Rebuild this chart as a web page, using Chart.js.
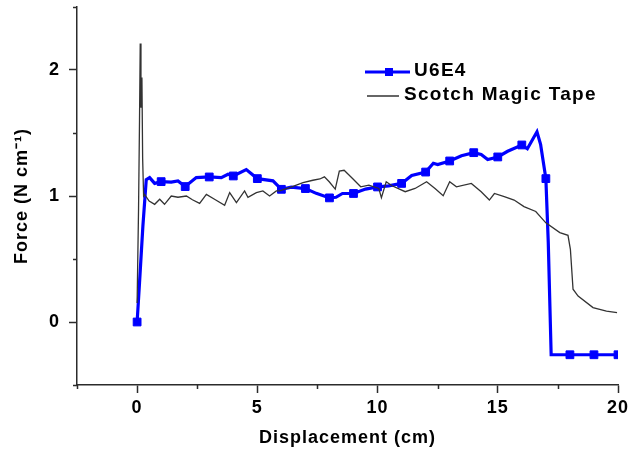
<!DOCTYPE html>
<html><head><meta charset="utf-8">
<script src="https://cdn.jsdelivr.net/npm/chart.js@4.4.1/dist/chart.umd.min.js"></script>
<style>html,body{margin:0;padding:0;background:#fff}#wrap{width:630px;height:455px}</style>
</head><body>
<div id="wrap"><canvas id="c" width="630" height="455"></canvas></div>
<script>
const seriesNames = ['U6E4', 'Scotch Magic Tape'];
const xTitle = 'Displacement (cm)';
const yTitle = 'Force (N cm\u207B\u00B9)';
const xMajorTicks = [0, 5, 10, 15, 20];
const yMajorTicks = [0, 1, 2];

const u6e4X = [0, 0.1, 0.24, 0.38, 0.52, 0.73, 1, 1.42, 1.7, 2, 2.46, 3, 3.5, 3.78, 4, 4.54, 5, 5.65, 6, 6.41, 7, 7.45, 8, 8.27, 8.54, 9, 9.5, 10, 10.46, 11, 11.42, 12, 12.32, 12.5, 13, 13.49, 14, 14.31, 14.58, 15, 15.41, 16, 16.23, 16.63, 16.78, 17, 17.1, 17.22, 18, 19, 20];
const u6e4Y = [0, 0.31, 0.76, 1.13, 1.146, 1.10, 1.114, 1.11, 1.12, 1.075, 1.146, 1.151, 1.146, 1.172, 1.159, 1.21, 1.138, 1.12, 1.053, 1.07, 1.059, 1.021, 0.985, 0.99, 1.02, 1.02, 1.055, 1.072, 1.08, 1.10, 1.163, 1.19, 1.26, 1.25, 1.278, 1.32, 1.344, 1.33, 1.29, 1.31, 1.355, 1.405, 1.375, 1.51, 1.41, 1.138, 0.63, -0.26, -0.26, -0.26, -0.26];

const tapeX = [0.0, 0.06, 0.1, 0.13, 0.16, 0.2, 0.23, 0.27, 0.31, 0.5, 0.73, 0.94, 1.14, 1.42, 1.7, 2.05, 2.3, 2.6, 2.88, 3.22, 3.64, 3.85, 4.13, 4.47, 4.61, 4.96, 5.23, 5.51, 5.79, 5.93, 6.4, 6.9, 7.31, 7.6, 7.79, 7.99, 8.24, 8.41, 8.61, 8.96, 9.3, 9.64, 10.05, 10.16, 10.36, 10.6, 11.15, 11.56, 12.04, 12.39, 12.73, 13.0, 13.28, 13.9, 14.31, 14.65, 14.86, 15.27, 15.68, 16.09, 16.58, 17.0, 17.58, 17.92, 18.02, 18.13, 18.34, 18.96, 19.52, 19.96];
const tapeY = [0.15, 0.9, 1.6, 2.21, 1.7, 1.94, 1.3, 1.0, 1.013, 0.96, 0.934, 0.974, 0.934, 1.0, 0.99, 1.0, 0.97, 0.942, 1.013, 0.974, 0.926, 1.027, 0.947, 1.04, 0.99, 1.027, 1.04, 1.0, 1.04, 1.04, 1.07, 1.106, 1.125, 1.135, 1.152, 1.113, 1.055, 1.197, 1.204, 1.139, 1.073, 1.086, 1.06, 0.987, 1.113, 1.081, 1.034, 1.06, 1.113, 1.06, 1.002, 1.113, 1.073, 1.1, 1.034, 0.968, 1.02, 0.995, 0.968, 0.916, 0.877, 0.787, 0.71, 0.688, 0.577, 0.26, 0.206, 0.114, 0.087, 0.075];

const AXIS = '#2b2b2b';
const BLUE = '#0000ff';
const GREY = '#333333';
const FONT = '"Liberation Sans", Arial, sans-serif';

const toPts = (xs, ys) => xs.map((v, i) => ({x: v, y: ys[i]}));

const spacing = {
  id: 'spacing',
  beforeDraw(chart) { chart.ctx.letterSpacing = '1px'; }
};

const extras = {
  id: 'extras',
  afterDraw(chart) {
    const {ctx, chartArea: ca, scales: {x, y}} = chart;
    ctx.save();
    ctx.strokeStyle = AXIS;
    ctx.lineWidth = 1.5;
    ctx.beginPath();
    x.ticks.forEach(t => {
      if (!xMajorTicks.includes(t.value)) {
        const px = Math.round(x.getPixelForValue(t.value)) + 0.5;
        ctx.moveTo(px, ca.bottom); ctx.lineTo(px, ca.bottom + 4);
      }
    });
    y.ticks.forEach(t => {
      if (!yMajorTicks.includes(t.value)) {
        const py = Math.round(y.getPixelForValue(t.value)) + 0.5;
        ctx.moveTo(ca.left, py); ctx.lineTo(ca.left - 4, py);
      }
    });
    ctx.stroke();

    // legend
    const ds = chart.data.datasets;
    ctx.font = 'bold 19px ' + FONT;
    ctx.letterSpacing = '1.3px';
    ctx.textBaseline = 'middle';
    ctx.fillStyle = '#000';
    ctx.strokeStyle = ds[0].borderColor; ctx.lineWidth = ds[0].borderWidth;
    ctx.beginPath(); ctx.moveTo(365, 72); ctx.lineTo(410, 72); ctx.stroke();
    ctx.fillStyle = ds[0].borderColor;
    ctx.fillRect(385, 68, 8, 8);
    ctx.fillStyle = '#000';
    ctx.fillText(ds[0].label, 414, 71);
    ctx.strokeStyle = ds[1].borderColor; ctx.lineWidth = 1.5;
    ctx.beginPath(); ctx.moveTo(367, 96); ctx.lineTo(399, 96); ctx.stroke();
    ctx.fillText(ds[1].label, 404, 95);
    ctx.restore();
  }
};

new Chart(document.getElementById('c'), {
  type: 'line',
  data: {
    datasets: [
      {
        label: seriesNames[0],
        data: toPts(u6e4X, u6e4Y),
        borderColor: BLUE,
        backgroundColor: BLUE,
        borderWidth: 3.2,
        pointStyle: 'rect',
        pointRadius: c => (c.raw && Number.isInteger(c.raw.x)) ? 5.5 : 0,
        pointBorderWidth: 1,
        pointHoverRadius: 0,
        tension: 0,
        order: 2
      },
      {
        label: seriesNames[1],
        data: toPts(tapeX, tapeY),
        borderColor: GREY,
        backgroundColor: GREY,
        borderWidth: 1.3,
        pointRadius: 0,
        tension: 0,
        order: 1
      }
    ]
  },
  options: {
    responsive: false,
    animation: false,
    events: [],
    layout: {padding: {top: 7, right: 12, left: 0, bottom: 0}},
    plugins: {legend: {display: false}, tooltip: {enabled: false}},
    scales: {
      x: {
        type: 'linear',
        min: -2.5, max: 20,
        afterFit: s => { s.height = 70; s.paddingLeft = 0; s.paddingRight = 0; },
        ticks: {
          stepSize: 2.5,
          autoSkip: false,
          maxRotation: 0,
          padding: 4,
          color: '#000',
          font: {family: FONT, size: 18, weight: 'bold'},
          callback: v => xMajorTicks.includes(v) ? String(v) : ''
        },
        grid: {
          drawOnChartArea: false,
          tickLength: 8,
          tickWidth: 1.5,
          tickColor: c => (c.tick && xMajorTicks.includes(c.tick.value)) ? AXIS : 'rgba(0,0,0,0)'
        },
        border: {color: AXIS, width: 1.5},
        title: {display: true, text: xTitle, color: '#000', font: {family: FONT, size: 18, weight: 'bold'}, padding: {top: 0, bottom: 6}}
      },
      y: {
        min: -0.5, max: 2.5,
        afterFit: s => { s.width = 77; s.paddingTop = 0; s.paddingBottom = 0; },
        ticks: {
          stepSize: 0.5,
          autoSkip: false,
          padding: 9,
          color: '#000',
          font: {family: FONT, size: 18, weight: 'bold'},
          callback: v => yMajorTicks.includes(v) ? String(v) : ''
        },
        grid: {
          drawOnChartArea: false,
          tickLength: 8,
          tickWidth: 1.5,
          tickColor: c => (c.tick && yMajorTicks.includes(c.tick.value)) ? AXIS : 'rgba(0,0,0,0)'
        },
        border: {color: AXIS, width: 1.5},
        title: {display: true, text: yTitle, color: '#000', font: {family: FONT, size: 18, weight: 'bold'}, padding: {top: 11, bottom: 0}}
      }
    }
  },
  plugins: [spacing, extras]
});
</script>
</body></html>
